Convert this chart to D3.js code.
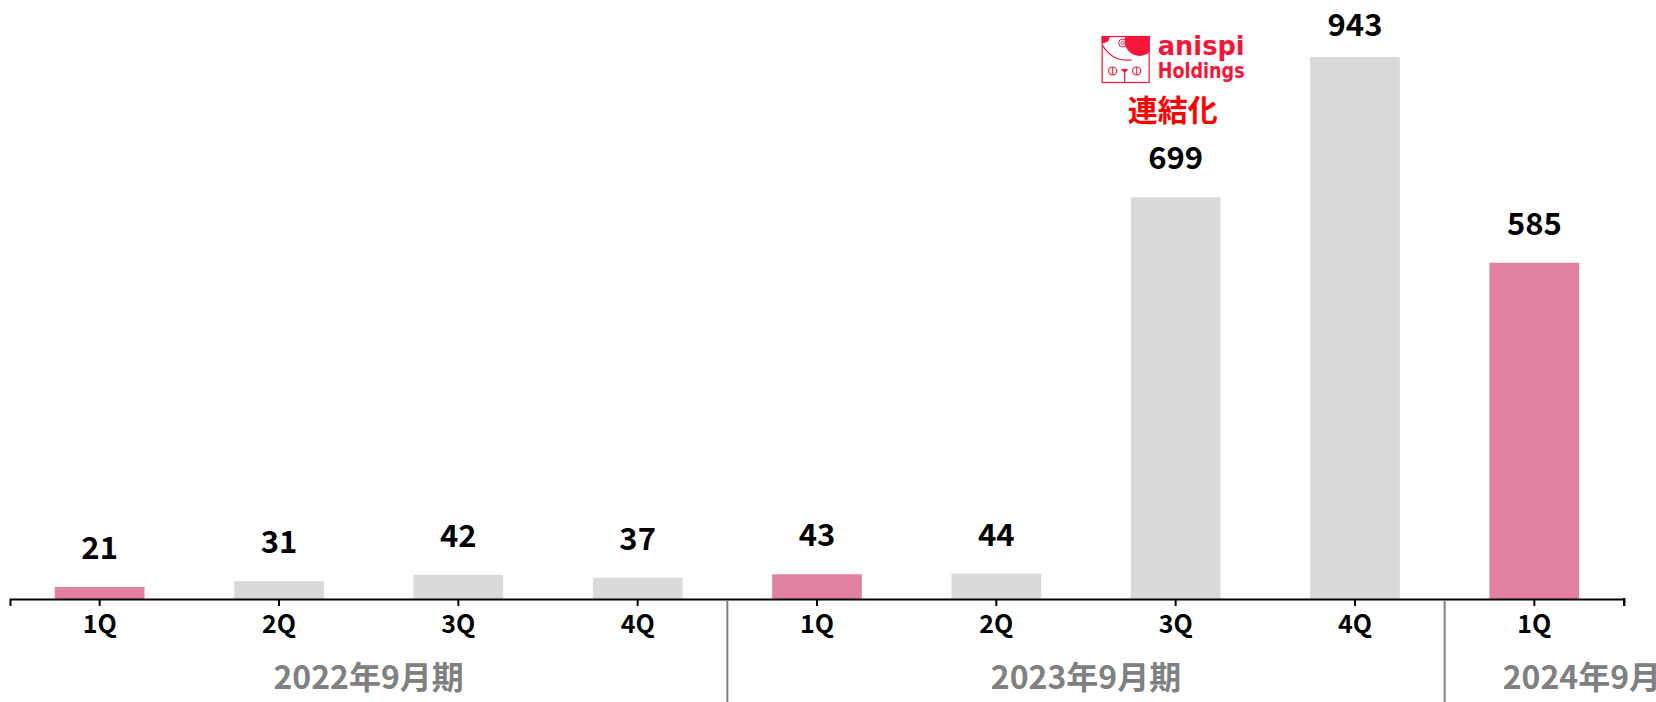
<!DOCTYPE html>
<html>
<head>
<meta charset="utf-8">
<script src="https://cdn.jsdelivr.net/npm/d3@7"></script>
<style>
  body { margin: 0; background: #fff; }
  svg { display: block; font-family: "Noto Sans CJK JP", "Noto Sans", sans-serif; }
</style>
</head>
<body>
<svg id="chart"></svg>
<script>
// Data
const quarters = ["1Q", "2Q", "3Q", "4Q", "1Q", "2Q", "3Q", "4Q", "1Q"];
const fiscalYears = ["2022年9月期", "2022年9月期", "2022年9月期", "2022年9月期",
                     "2023年9月期", "2023年9月期", "2023年9月期", "2023年9月期",
                     "2024年9月期"];
const values = [21, 31, 42, 37, 43, 44, 699, 943, 585];
const highlight = [true, false, false, false, true, false, false, false, true];
const yearGroups = ["2022年9月期", "2023年9月期", "2024年9月期"];

const width = 1656, height = 702;
const axisY = 599;

const svg = d3.select("#chart")
  .attr("width", width)
  .attr("height", height);

const keys = quarters.map((q, i) => i);

const x = d3.scaleBand()
  .domain(keys)
  .range([10, 1624])
  .paddingInner(0.5)
  .paddingOuter(0.25);

const y = d3.scaleLinear()
  .domain([0, 943])
  .range([axisY, 57]);

// Bars
svg.selectAll("rect.bar")
  .data(values)
  .enter().append("rect")
  .attr("class", "bar")
  .attr("x", (d, i) => x(i))
  .attr("y", d => y(d))
  .attr("width", x.bandwidth())
  .attr("height", d => axisY - y(d))
  .attr("fill", (d, i) => highlight[i] ? "#e2809f" : "#d9d9d9");

// Value labels
svg.selectAll("text.value")
  .data(values)
  .enter().append("text")
  .attr("class", "value")
  .attr("x", (d, i) => x(i) + x.bandwidth() / 2)
  .attr("y", d => Math.max(y(d) - 28, 36))
  .attr("text-anchor", "middle")
  .attr("font-size", 31)
  .attr("font-weight", "bold")
  .attr("fill", "#000")
  .text(d => d);

// X axis
const xAxis = svg.append("g")
  .attr("transform", `translate(0,${axisY})`)
  .call(d3.axisBottom(x).tickSizeOuter(0).tickSize(7).tickFormat(i => quarters[i]));

xAxis.select(".domain").attr("stroke", "#000").attr("stroke-width", 2);
xAxis.selectAll(".tick line").attr("stroke", "#000").attr("stroke-width", 2);
xAxis.selectAll(".tick text")
  .attr("y", 16)
  .attr("font-size", 25)
  .attr("font-weight", "bold")
  .attr("fill", "#000")
  .attr("font-family", "'Noto Sans CJK JP', sans-serif");

// right outer tick
const xEnd = x.range()[1];
xAxis.append("line")
  .attr("x1", xEnd).attr("x2", xEnd)
  .attr("y1", -1).attr("y2", 7)
  .attr("stroke", "#000").attr("stroke-width", 2);

// Year separators and labels
const step = x.step();
const gap = step - x.bandwidth();
yearGroups.forEach((yr, g) => {
  const idx = fiscalYears.map((f, i) => f === yr ? i : -1).filter(i => i >= 0);
  const left = x(idx[0]) - gap / 2;
  const right = x(idx[idx.length - 1]) + x.bandwidth() + gap / 2;
  if (g > 0) {
    svg.append("line")
      .attr("x1", left).attr("x2", left)
      .attr("y1", axisY + 1).attr("y2", height)
      .attr("stroke", "#808080").attr("stroke-width", 2);
  }
  const last = g === yearGroups.length - 1;
  svg.append("text")
    .attr("x", last ? left + 58 : (left + right) / 2)
    .attr("y", 689)
    .attr("text-anchor", last ? "start" : "middle")
    .attr("font-size", 32)
    .attr("font-weight", "bold")
    .attr("fill", "#808080")
    .text(yr);
});

// anispi Holdings annotation over the 3Q bar
const cx = x(6) + x.bandwidth() / 2;
const red = "#f5163a";
const logo = svg.append("g").attr("transform", `translate(${cx - 74},36)`);

logo.append("clipPath").attr("id", "logoClip")
  .append("rect").attr("x", 0).attr("y", 0).attr("width", 48).attr("height", 47);

const inner = logo.append("g").attr("clip-path", "url(#logoClip)");
inner.append("circle").attr("cx", 38).attr("cy", 5).attr("r", 15).attr("fill", red);
inner.append("circle").attr("cx", 2).attr("cy", 1).attr("r", 6).attr("fill", red);
inner.append("path")
  .attr("d", "M0,8 Q10,26 30,24")
  .attr("fill", "none").attr("stroke", red).attr("stroke-width", 1.2);

logo.append("rect")
  .attr("x", 0.5).attr("y", 0.5).attr("width", 47).attr("height", 46)
  .attr("fill", "none").attr("stroke", red).attr("stroke-width", 1.2);

logo.append("circle").attr("cx", 21).attr("cy", 7).attr("r", 4)
  .attr("fill", "none").attr("stroke", red).attr("stroke-width", 1);
logo.append("circle").attr("cx", 21).attr("cy", 7).attr("r", 1.6)
  .attr("fill", "none").attr("stroke", red).attr("stroke-width", 0.8);

[11, 35].forEach(bx => {
  logo.append("circle").attr("cx", bx).attr("cy", 35).attr("r", 4)
    .attr("fill", "none").attr("stroke", red).attr("stroke-width", 1.2);
  logo.append("line").attr("x1", bx).attr("x2", bx).attr("y1", 31).attr("y2", 39)
    .attr("stroke", red).attr("stroke-width", 1);
});
logo.append("path").attr("d", "M19,33 L27,33 L23,37 Z").attr("fill", red);
logo.append("line").attr("x1", 23).attr("x2", 23).attr("y1", 36).attr("y2", 47)
  .attr("stroke", red).attr("stroke-width", 1.2);

logo.append("text")
  .attr("x", 56).attr("y", 19)
  .attr("font-family", "'DejaVu Sans', sans-serif")
  .attr("font-size", 27).attr("font-weight", "bold")
  .attr("fill", red)
  .attr("textLength", 87).attr("lengthAdjust", "spacingAndGlyphs")
  .text("anispi");
logo.append("text")
  .attr("x", 56).attr("y", 42)
  .attr("font-family", "'DejaVu Sans', sans-serif")
  .attr("font-size", 22).attr("font-weight", "bold")
  .attr("fill", red)
  .attr("textLength", 87).attr("lengthAdjust", "spacingAndGlyphs")
  .text("Holdings");

svg.append("text")
  .attr("x", cx - 3)
  .attr("y", 121)
  .attr("text-anchor", "middle")
  .attr("font-size", 30)
  .attr("font-weight", "bold")
  .attr("fill", "#ff0000")
  .text("連結化");
</script>
</body>
</html>
